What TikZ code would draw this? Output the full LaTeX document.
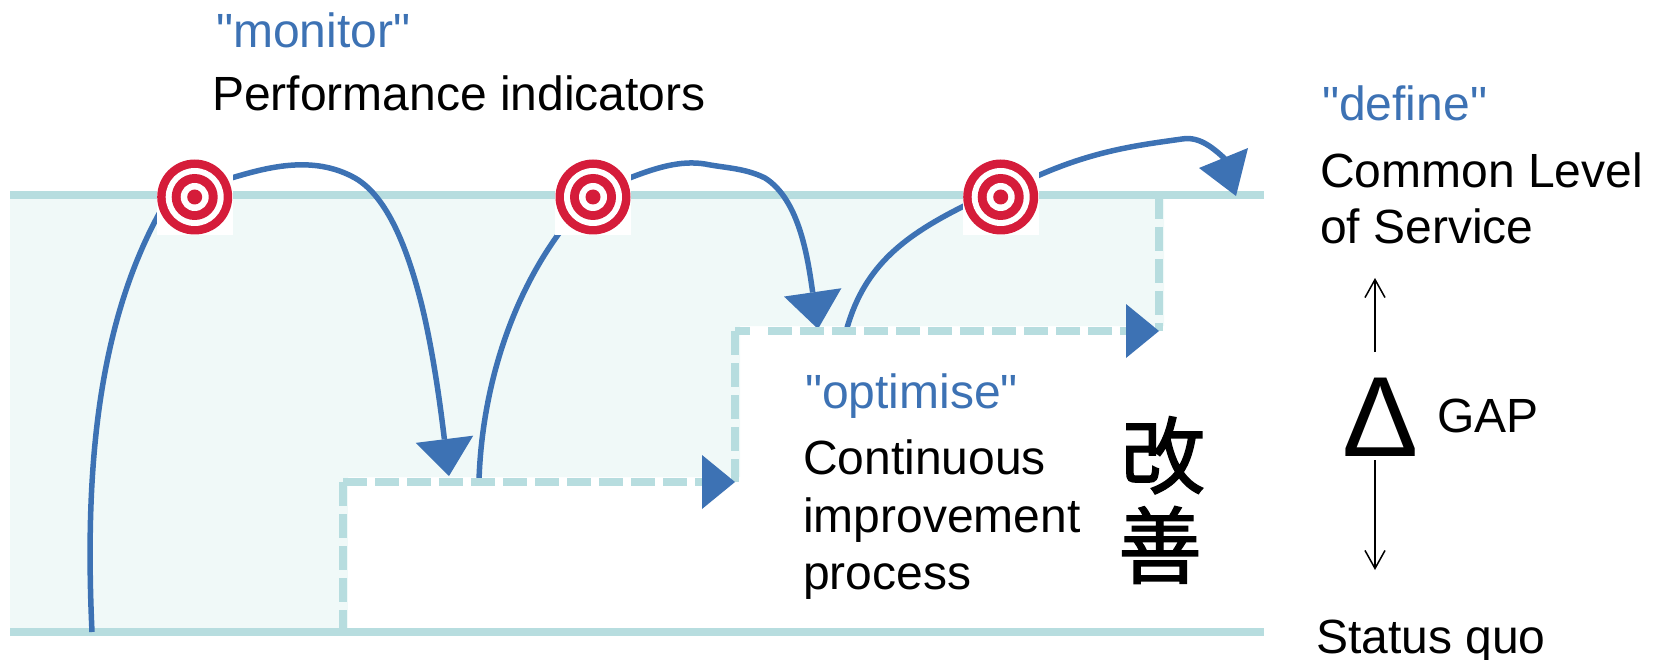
\documentclass[tikz,border=0pt]{standalone}
\usepackage{fontspec}
\setmainfont{Liberation Sans}[Ligatures=TeXOff]
\newfontfamily\cjkfont{Noto Sans CJK JP}[FakeBold=1.6]
\usetikzlibrary{arrows.meta}
\definecolor{lvl}{HTML}{B7DDDF}
\definecolor{pale}{HTML}{F0F9F8}
\definecolor{flow}{HTML}{3D72B4}
\definecolor{tred}{HTML}{D51C3A}
\tikzset{
  x=1pt,y=-1pt,
  lvlline/.style={draw=lvl,line width=8pt},
  dashline/.style={draw=lvl,line width=8pt,dash pattern=on 24pt off 8pt},
  flowline/.style={draw=flow,line width=5.5pt},
  flowhead/.style={-{Triangle[length=37pt,width=58pt,fill=flow,line width=0pt]}},
  stephead/.style={-{Triangle[length=33pt,width=54pt,fill=flow,line width=0pt]}},
  gaparrow/.style={draw=black,line width=1.5pt,-{Straight Barb[length=18pt,width=20pt,line width=1.5pt]}},
  lab/.style={anchor=base west,inner sep=0pt,font=\fontsize{48}{56}\selectfont},
  blab/.style={lab,text=flow},
  ring/.style={circle,inner sep=0pt,minimum size=#1,fill=tred},
  wring/.style={circle,inner sep=0pt,minimum size=#1,fill=white},
  tbox/.style={fill=white,inner sep=0pt,minimum width=76pt,minimum height=76pt},
  kanji/.style={anchor=base,inner sep=0pt,font=\cjkfont\fontsize{84}{84}\selectfont},
}
\newcommand{\mytarget}[3]{%
  \node[tbox] at (#2,#3+0) {};
  \node[ring=75pt] (#1) at (#2,#3) {};
  \node[wring=58pt] at (#2,#3) {};
  \node[ring=46pt] at (#2,#3) {};
  \node[wring=28pt] at (#2,#3) {};
  \node[ring=15pt] at (#2,#3) {};
}
\begin{document}
\begin{tikzpicture}
\useasboundingbox (0,0) rectangle (1654,660);
% fill
\fill[pale] (10,195) -- (1164,195) -- (1164,326) -- (740,326) -- (740,477) -- (348,477) -- (348,632) -- (10,632) -- cycle;
\fill[white] (348,487) rectangle (740,628);
% levels
\coordinate (topL) at (10,195);
\coordinate (topR) at (1264,195);
\coordinate (botL) at (10,632);
\coordinate (botR) at (1264,632);
\draw[lvlline] (topL) -- (topR);
\draw[lvlline] (botL) -- (botR);
% flow curves
\coordinate (a0) at (92,632);
\coordinate (a1) at (160,212);
\coordinate (b0) at (228,179);
\coordinate (b1) at (355,178);
\coordinate (b2) at (422,306);
\coordinate (b3) at (449,476);
\coordinate (c0) at (479,480);
\coordinate (c1) at (560,232);
\coordinate (d0) at (627,179);
\coordinate (d1) at (705,164);
\coordinate (d2) at (765,178);
\coordinate (d3) at (818,329);
\coordinate (e0) at (847,328);
\coordinate (e1) at (968,204);
\coordinate (f0) at (1035,177);
\coordinate (f1) at (1182,139);
\coordinate (f2) at (1236,170);
\draw[flowline] (a0) .. controls (85,480) and (95,330) .. (a1);
\draw[flowline,flowhead] (b0) .. controls (265,168) and (312,154) .. (b1) .. controls (388,197) and (408,250) .. (b2) .. controls (435,360) and (442,420) .. (b3);
\draw[flowline] (c0) .. controls (482,390) and (510,300) .. (c1);
\draw[flowline,flowhead] (d0) .. controls (655,168) and (680,160) .. (d1) .. controls (725,168) and (745,168) .. (d2) .. controls (800,200) and (808,260) .. (d3);
\draw[flowline] (e0) .. controls (865,265) and (905,235) .. (e1);
\draw[flowline] (f0) .. controls (1095,150) and (1140,145) .. (f1) .. controls (1200,136) and (1215,148) .. (f2);
\path[fill=flow] (1248,148) -- (1199,168) -- (1236,196) -- cycle;
% steps
\coordinate (s0) at (343,628);
\coordinate (s1) at (343,482);
\coordinate (s2) at (735,482);
\coordinate (s3) at (735,331);
\coordinate (s3b) at (750,331);
\coordinate (s3c) at (768,331);
\coordinate (s4) at (1159,331);
\coordinate (s5) at (1159,195);
\draw[dashline] (s1) -- (s0);
\draw[dashline] (s3) -- (s2);
\draw[lvlline] (s3) -- (s3b);
\draw[dashline] (s5) -- (s4);
\draw[dashline,stephead] (s1) -- (s2);
\draw[dashline,stephead] (s3c) -- (s4);
% targets
\mytarget{t1}{194.7}{197}
\mytarget{t2}{593}{197}
\mytarget{t3}{1000.7}{197}
% texts
\node[blab] (n1) at (216,47.5) {"monitor"};
\node[lab] (n2) at (212,111) {Performance indicators};
\node[blab] (n3) at (1322,120.5) {"define"};
\node[lab] (n4) at (1320,187.5) {Common Level};
\node[lab] (n5) at (1320,243.5) {of Service};
\node[blab] (n6) at (805,408.5) {"optimise"};
\node[lab] (n7) at (803,474) {Continuous};
\node[lab] (n8) at (803,532) {improvement};
\node[lab] (n9) at (803,589) {process};
\node[lab] (n10) at (1316,653) {Status quo};
\node[lab] (n11) at (1437,432) {GAP};
\node[anchor=base,inner sep=0pt,font=\fontsize{114}{114}\selectfont] (delta) at (1381,456) {Δ};
\node[kanji] (k1) at (1163,487) {改};
\node[kanji] (k2) at (1160,577) {善};
% gap arrows
\coordinate (g1) at (1375,352);
\coordinate (g2) at (1375,278);
\coordinate (g3) at (1375,460);
\coordinate (g4) at (1375,570);
\draw[gaparrow] (g1) -- (g2);
\draw[gaparrow] (g3) -- (g4);
\end{tikzpicture}
\end{document}
